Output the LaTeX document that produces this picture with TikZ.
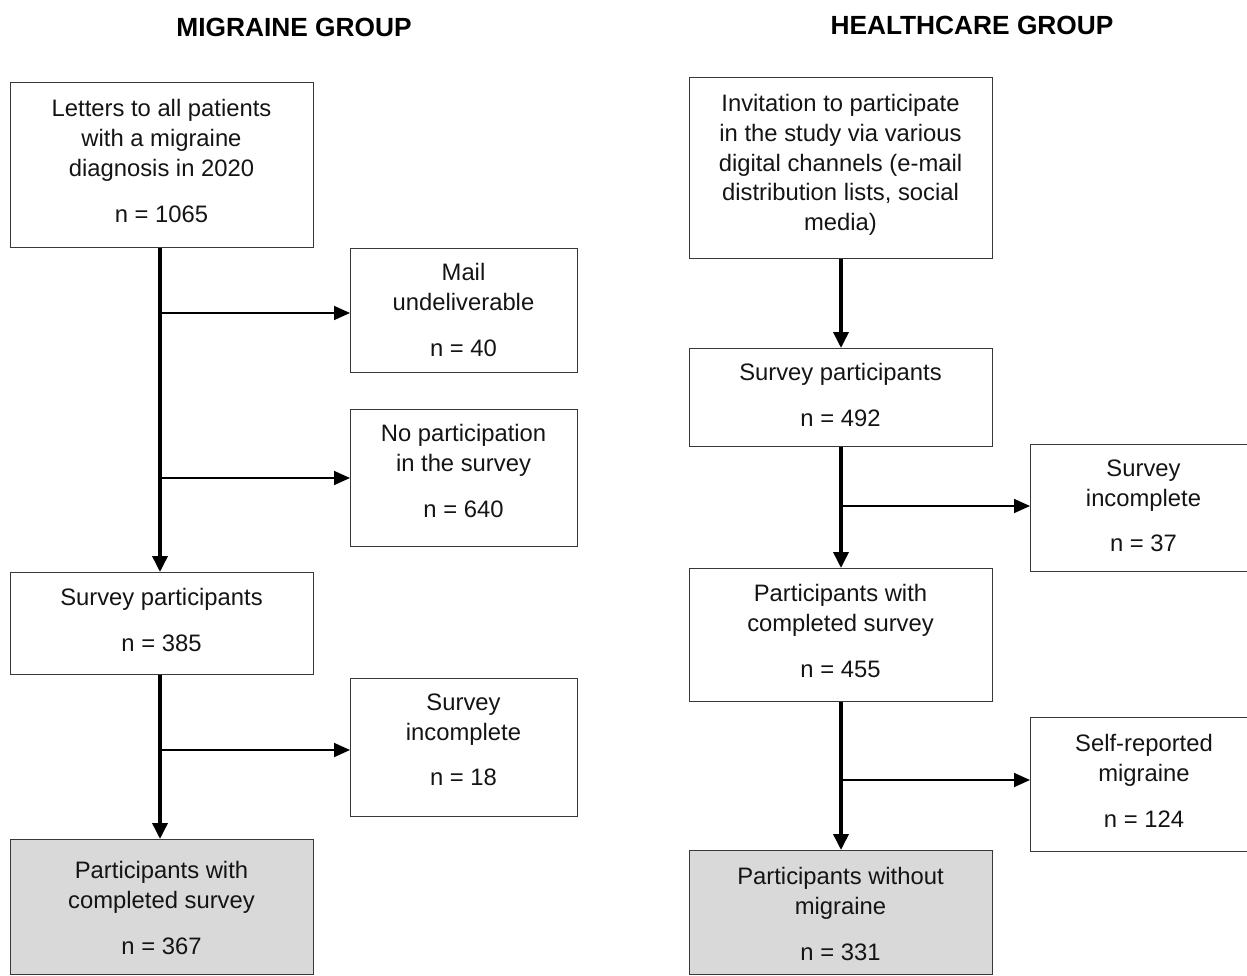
\documentclass[tikz,border=0pt]{standalone}
\usepackage{fontspec}
\setmainfont{Liberation Sans}
\usetikzlibrary{arrows.meta}
\begin{document}
\begin{tikzpicture}[x=1pt,y=-1pt,
  box/.style={draw=black!78,line width=1.3pt,inner sep=0pt,anchor=north west},
  grey/.style={box,fill=black!15},
  txt/.style={align=center,font=\fontsize{23.8}{29.7}\selectfont,inner sep=0pt,text=black!92},
  title/.style={font=\fontsize{26.3}{30}\selectfont\bfseries,inner sep=0pt},
  trunk/.style={line width=3.6pt,-{Triangle[length=16pt,width=15pt]}},
  branch/.style={line width=1.8pt,-{Triangle[length=16pt,width=14pt]}}]
\useasboundingbox (0,0) rectangle (1247,976);
\clip (0,0) rectangle (1247,976);
% titles
\node[title] (t1) at (294,27) {MIGRAINE GROUP};
\node[title] (t2) at (972,25) {HEALTHCARE GROUP};
% left column boxes
\node[box,minimum width=303pt,minimum height=165pt] (b1) at (10,82) {};
\node[txt] (b1t) at (161.5,161) {Letters to all patients\\with a migraine\\diagnosis in 2020\\[16pt]n = 1065};
\node[box,minimum width=227pt,minimum height=124pt] (b2) at (350,248) {};
\node[txt] (b2t) at (463.5,310) {Mail\\undeliverable\\[16pt]n = 40};
\node[box,minimum width=227pt,minimum height=137pt] (b3) at (350,409) {};
\node[txt] (b3t) at (463.5,471) {No participation\\in the survey\\[16pt]n = 640};
\node[box,minimum width=303pt,minimum height=102pt] (b4) at (10,572) {};
\node[txt] (b4t) at (161.5,620) {Survey participants\\[16pt]n = 385};
\node[box,minimum width=227pt,minimum height=138pt] (b5) at (350,678) {};
\node[txt] (b5t) at (463.5,740) {Survey\\incomplete\\[16pt]n = 18};
\node[grey,minimum width=303pt,minimum height=135pt] (b6) at (10,839) {};
\node[txt] (b6t) at (161.5,908) {Participants with\\completed survey\\[16pt]n = 367};
% right column boxes
\node[box,minimum width=303pt,minimum height=181pt] (r1) at (689,77) {};
\node[txt] (r1t) at (840.5,165) {Invitation to participate\\in the study via various\\digital channels (e-mail\\distribution lists, social\\media)};
\node[box,minimum width=303pt,minimum height=98pt] (r2) at (689,348) {};
\node[txt] (r2t) at (840.5,395) {Survey participants\\[16pt]n = 492};
\node[box,minimum width=227pt,minimum height=127pt] (r3) at (1030,444) {};
\node[txt] (r3t) at (1143.5,506) {Survey\\incomplete\\[16pt]n = 37};
\node[box,minimum width=303pt,minimum height=133pt] (r4) at (689,568) {};
\node[txt] (r4t) at (840.5,631) {Participants with\\completed survey\\[16pt]n = 455};
\node[box,minimum width=227pt,minimum height=134pt] (r5) at (1030,717) {};
\node[txt] (r5t) at (1144,781) {Self-reported\\migraine\\[16pt]n = 124};
\node[grey,minimum width=303pt,minimum height=124pt] (r6) at (689,850) {};
\node[txt] (r6t) at (840.5,914) {Participants without\\migraine\\[16pt]n = 331};
% junctions
\coordinate (j1) at (160,313);
\coordinate (j2) at (160,478);
\coordinate (j3) at (160,750);
\coordinate (k1) at (841,506);
\coordinate (k2) at (841,780);
% left connectors
\draw[trunk] (b1.south -| j1) -- (b4.north -| j1);
\draw[branch] (j1) -- (j1 -| b2.west);
\draw[branch] (j2) -- (j2 -| b3.west);
\draw[trunk] (b4.south -| j3) -- (b6.north -| j3);
\draw[branch] (j3) -- (j3 -| b5.west);
% right connectors
\draw[trunk] (r1.south -| k1) -- (r2.north -| k1);
\draw[trunk] (r2.south -| k1) -- (r4.north -| k1);
\draw[branch] (k1) -- (k1 -| r3.west);
\draw[trunk] (r4.south -| k2) -- (r6.north -| k2);
\draw[branch] (k2) -- (k2 -| r5.west);
\end{tikzpicture}
\end{document}
